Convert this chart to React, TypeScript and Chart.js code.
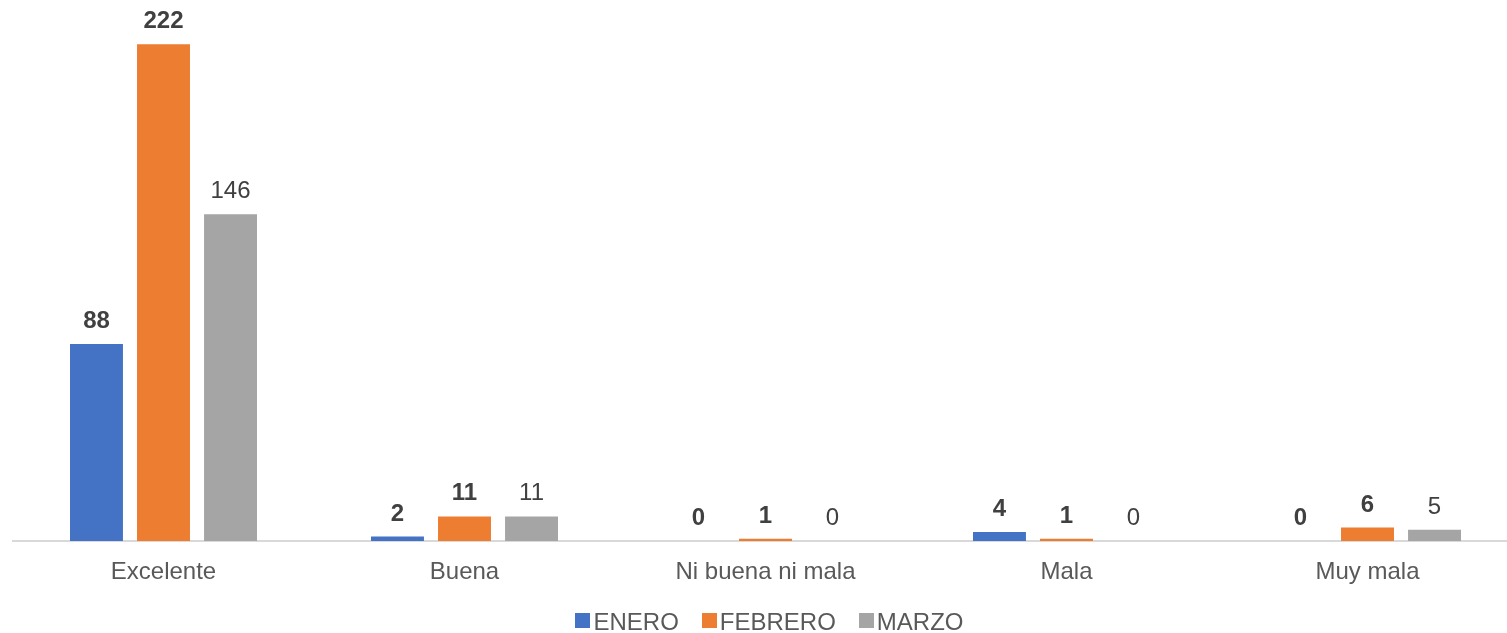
import React, { useEffect, useRef } from "react";
import { Chart, registerables } from "chart.js";

Chart.register(...registerables);

const categories = ["Excelente", "Buena", "Ni buena ni mala", "Mala", "Muy mala"];
const seriesNames = ["ENERO", "FEBRERO", "MARZO"];
const eneroValues = [88, 2, 0, 4, 0];
const febreroValues = [222, 11, 1, 1, 6];
const marzoValues = [146, 11, 0, 0, 5];
const seriesColors = ["#4472C4", "#ED7D31", "#A5A5A5"];
const seriesLabelBold = [true, true, false];
const yAxisMax = 240;

const FONT = '"Liberation Sans", Arial, Helvetica, sans-serif';
const FONT_SIZE = 24;

const dataLabelPlugin = {
  id: "dataLabels",
  afterDatasetsDraw(chart: any) {
    const ctx = chart.ctx;
    ctx.save();
    ctx.textAlign = "center";
    ctx.textBaseline = "alphabetic";
    ctx.fillStyle = "#404040";
    chart.data.datasets.forEach((ds: any, di: number) => {
      const meta = chart.getDatasetMeta(di);
      ctx.font = `${seriesLabelBold[di] ? "bold " : ""}${FONT_SIZE}px ${FONT}`;
      meta.data.forEach((bar: any, i: number) => {
        ctx.fillText(String(ds.data[i]), bar.x, bar.y - 16);
      });
    });
    ctx.restore();
  },
};

const legendPlugin = {
  id: "bottomLegend",
  afterDraw(chart: any) {
    const ctx = chart.ctx;
    const box = 15;
    const gapBoxText = 3;
    const gapItems = 23;
    const baseline = 630;
    ctx.save();
    ctx.font = `${FONT_SIZE}px ${FONT}`;
    const items = chart.data.datasets.map((ds: any) => ({
      text: ds.label,
      color: ds.backgroundColor,
      w: ctx.measureText(ds.label).width,
    }));
    const total =
      items.reduce((s: number, it: any) => s + box + gapBoxText + it.w, 0) +
      gapItems * (items.length - 1);
    let x = (chart.chartArea.left + chart.chartArea.right) / 2 + 4 - total / 2;
    ctx.textAlign = "left";
    ctx.textBaseline = "alphabetic";
    items.forEach((it: any) => {
      ctx.fillStyle = it.color;
      ctx.fillRect(Math.round(x), baseline - 17, box, box);
      x += box + gapBoxText;
      ctx.fillStyle = "#595959";
      ctx.fillText(it.text, x, baseline);
      x += it.w + gapItems;
    });
    ctx.restore();
  },
};

export default function App() {
  const canvasRef = useRef<HTMLCanvasElement | null>(null);

  useEffect(() => {
    if (!canvasRef.current) return;
    const seriesValues = [eneroValues, febreroValues, marzoValues];
    const chart = new Chart(canvasRef.current, {
      type: "bar",
      data: {
        labels: categories,
        datasets: seriesNames.map((name, i) => ({
          label: name,
          data: seriesValues[i],
          backgroundColor: seriesColors[i],
          borderWidth: 0,
          barPercentage: 0.79,
          categoryPercentage: 0.668,
        })),
      },
      options: {
        responsive: false,
        animation: false,
        devicePixelRatio: 1,
        layout: { padding: { top: 4, left: 13, right: 12, bottom: 0 } },
        plugins: {
          legend: { display: false },
          tooltip: { enabled: false },
        },
        scales: {
          x: {
            grid: { display: false },
            border: { display: true, color: "#D9D9D9", width: 2 },
            ticks: {
              color: "#595959",
              font: { family: FONT, size: FONT_SIZE },
              padding: 9,
              maxRotation: 0,
              autoSkip: false,
            },
            afterFit: (scale: any) => {
              scale.height = 92;
            },
          },
          y: {
            display: false,
            min: 0,
            max: yAxisMax,
          },
        },
      },
      plugins: [dataLabelPlugin, legendPlugin],
    });
    return () => chart.destroy();
  }, []);

  return (
    <div
      style={{
        position: "fixed",
        left: 0,
        top: 0,
        width: 1507,
        height: 633,
        overflow: "hidden",
        background: "#fff",
      }}
    >
      <canvas ref={canvasRef} width={1530} height={633} style={{ display: "block" }} />
    </div>
  );
}
